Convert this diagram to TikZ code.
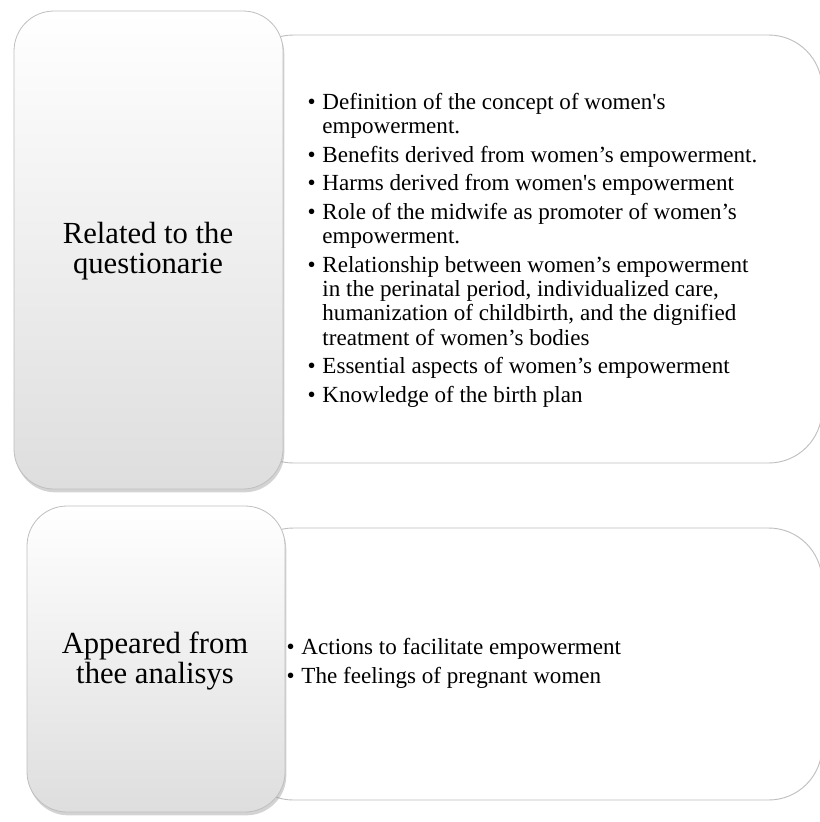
\documentclass[tikz,border=0pt]{standalone}
\usepackage{fontspec}
\setmainfont{Liberation Serif}
\usetikzlibrary{shadows, positioning}
\definecolor{boxline}{rgb}{0.75, 0.75, 0.75}
\definecolor{boxgray}{rgb}{0.87, 0.87, 0.87}
\newcommand{\sq}{\textquotesingle}

\begin{document}
\begin{tikzpicture}[x=0.75pt, y=-0.75pt,
    listbox/.style={draw=boxline, line width=0.7pt, fill=white, rounded corners=40pt},
    headbox/.style={draw=boxline, line width=0.6pt, rounded corners=30pt,
        top color=white, middle color=white, bottom color=boxgray,
        drop shadow={opacity=0.35, shadow xshift=1pt, shadow yshift=-2.5pt}},
    headtext/.style={align=center, font=\fontsize{23}{22}\selectfont},
    listtext/.style={align=left, anchor=west, font=\fontsize{17.3}{18.2}\selectfont}]
    \useasboundingbox (0,0) rectangle (820,822);
    % list boxes (behind)
    \draw[listbox] (240,35) rectangle (822,463);
    \draw[listbox] (240,528) rectangle (822,800);
    % heading boxes
    \draw[headbox] (14,11) rectangle (283,489);
    \draw[headbox] (27,506) rectangle (285,812);
    % headings
    \node[headtext] (quest) at (148,251) {Related to the\\questionarie};
    \node[headtext] (anal) at (155,661) {Appeared from\\thee analisys};
    % items
    \node[listtext] (qitems) at (303,251) {%
        \begin{tabular}{@{}l@{\hspace{5pt}}l@{}}
        \textbullet & Definition of the concept of women\sq s\\
                    & empowerment.\\[3.3pt]
        \textbullet & Benefits derived from women’s empowerment.\\[3.3pt]
        \textbullet & Harms derived from women\sq s empowerment\\[3.3pt]
        \textbullet & Role of the midwife as promoter of women’s\\
                    & empowerment.\\[3.3pt]
        \textbullet & Relationship between women’s empowerment\\
                    & in the perinatal period, individualized care,\\
                    & humanization of childbirth, and the dignified\\
                    & treatment of women’s bodies\\[3.3pt]
        \textbullet & Essential aspects of women’s empowerment\\[3.3pt]
        \textbullet & Knowledge of the birth plan
        \end{tabular}};
    \node[listtext] (aitems) at (282,664) {%
        \begin{tabular}{@{}l@{\hspace{5pt}}l@{}}
        \textbullet & Actions to facilitate empowerment\\[3.3pt]
        \textbullet & The feelings of pregnant women
        \end{tabular}};
\end{tikzpicture}
\end{document}
